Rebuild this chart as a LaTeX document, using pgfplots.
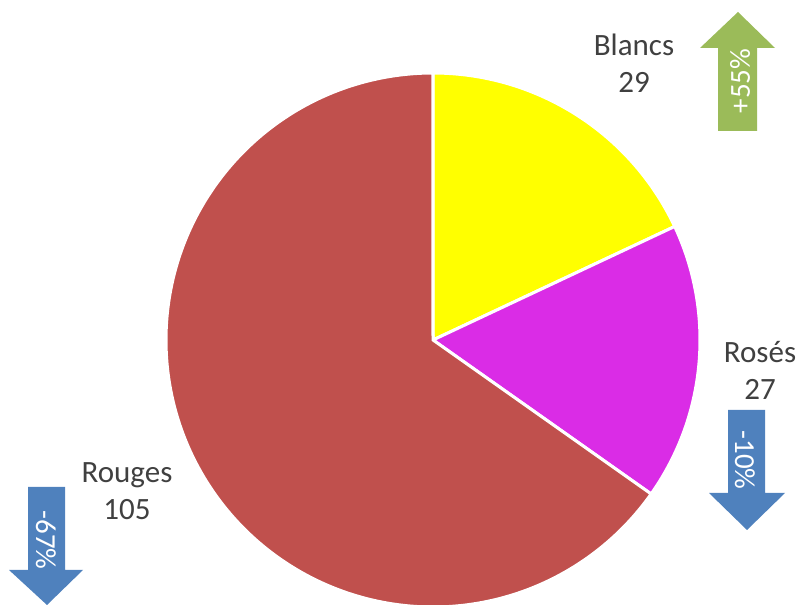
\documentclass[border=0pt]{standalone}
\usepackage{fontspec}
\setmainfont{Carlito}
\usepackage{pgfplots}
\usepackage{pgfplotstable}
\pgfplotsset{compat=1.18}
\definecolor{cBlanc}{HTML}{FFFF00}
\definecolor{cRose}{HTML}{DA2CE6}
\definecolor{cRouge}{HTML}{C0504D}
\definecolor{cGreen}{HTML}{9BBB59}
\definecolor{cBlue}{HTML}{4F81BD}
\definecolor{cText}{HTML}{404040}
\pgfplotstableread{
label value
Blancs 29
Roses 27
Rouges 105
}\data
\begin{document}
\begin{tikzpicture}
\pgfplotstablegetelem{0}{value}\of\data \let\vA\pgfplotsretval
\pgfplotstablegetelem{1}{value}\of\data \let\vB\pgfplotsretval
\pgfplotstablegetelem{2}{value}\of\data \let\vC\pgfplotsretval
\pgfmathsetmacro\tot{\vA+\vB+\vC}
\pgfmathsetmacro\aA{90-\vA/\tot*360}
\pgfmathsetmacro\aB{\aA-\vB/\tot*360}
\pgfmathsetmacro\aC{\aB-\vC/\tot*360}
\begin{axis}[name=ax, scale only axis, width=400pt, height=302.5pt,
  xmin=0, xmax=800, ymin=0, ymax=605, hide axis, clip=true]
\addplot[draw=white, line width=1.5pt, fill=cBlanc, domain=\aA:90, samples=120]
  ({433+267*cos(x)},{265+267*sin(x)}) -- (axis cs:433,265) -- cycle;
\addplot[draw=white, line width=1.5pt, fill=cRose, domain=\aB:\aA, samples=120]
  ({433+267*cos(x)},{265+267*sin(x)}) -- (axis cs:433,265) -- cycle;
\addplot[draw=white, line width=1.5pt, fill=cRouge, domain=\aC:\aB, samples=300]
  ({433+267*cos(x)},{265+267*sin(x)}) -- (axis cs:433,265) -- cycle;
% arrows
\addplot[draw=none, fill=cGreen] coordinates {(718,474) (718,557) (700,557) (738,593) (775,557) (757,557) (757,474)} -- cycle;
\addplot[draw=none, fill=cBlue] coordinates {(728,195) (765,195) (765,112) (785,112) (747,75) (709,112) (728,112)} -- cycle;
\addplot[draw=none, fill=cBlue] coordinates {(28,118) (65,118) (65,35) (83,35) (47,0) (9,35) (28,35)} -- cycle;
\node[rotate=90, text=white, font=\fontsize{14.5}{16}\selectfont] at (axis cs:740,524) {+55\%};
\node[rotate=-90, text=white, font=\fontsize{14.5}{16}\selectfont] at (axis cs:745,145) {-10\%};
\node[rotate=-90, text=white, font=\fontsize{14.5}{16}\selectfont] at (axis cs:46,65) {-67\%};
% labels
\node[text=cText, align=center, font=\fontsize{15.5}{18.5}\selectfont] at (axis cs:634,542) {Blancs\\29};
\node[text=cText, align=center, font=\fontsize{15.5}{18.5}\selectfont] at (axis cs:760,235) {Rosés\\27};
\node[text=cText, align=center, font=\fontsize{15.5}{18.5}\selectfont] at (axis cs:127,114) {Rouges\\105};
\end{axis}
\pgfresetboundingbox
\path (ax.south west) rectangle (ax.north east);
\end{tikzpicture}
\end{document}
